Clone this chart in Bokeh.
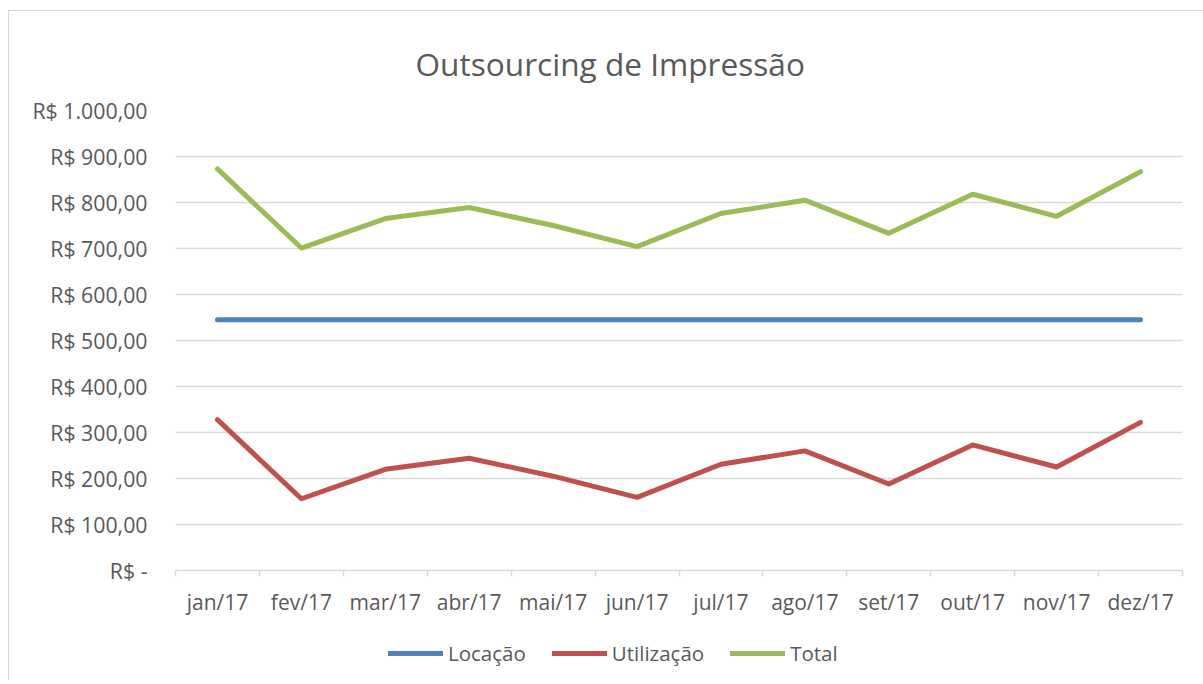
from bokeh.plotting import figure
from bokeh.models import Range1d, FixedTicker, Legend, LegendItem
from bokeh.layouts import column
from bokeh.embed import file_html
from bokeh.resources import INLINE

months = ["jan/17", "fev/17", "mar/17", "abr/17", "mai/17", "jun/17",
          "jul/17", "ago/17", "set/17", "out/17", "nov/17", "dez/17"]
locacao = [545, 545, 545, 545, 545, 545, 545, 545, 545, 545, 545, 545]
utilizacao = [328, 156, 220, 244, 205, 159, 231, 260, 188, 273, 225, 322]
total = [873, 701, 765, 789, 750, 704, 776, 805, 733, 818, 770, 867]
y_ticks = [0, 100, 200, 300, 400, 500, 600, 700, 800, 900, 1000]
y_labels = ["R$ -", "R$ 100,00", "R$ 200,00", "R$ 300,00", "R$ 400,00", "R$ 500,00",
            "R$ 600,00", "R$ 700,00", "R$ 800,00", "R$ 900,00", "R$ 1.000,00"]
series_names = ["Locação", "Utilização", "Total"]
colors = ["#4F81BD", "#C0504D", "#9BBB59"]

FONT = "Open Sans"
TXT = "#595959"
GRID = "#d9d9d9"
LW = 5

xs = list(range(len(months)))
series = [locacao, utilizacao, total]

p = figure(frame_width=1007, frame_height=460, output_backend="svg", toolbar_location=None,
           x_range=Range1d(-0.5, len(months) - 0.5), y_range=Range1d(0, 1000),
           min_border_left=166, min_border_right=22, min_border_top=99, min_border_bottom=60)
p.outline_line_color = None
p.background_fill_color = "white"
p.border_fill_color = "white"

p.title.text = "Outsourcing de Impressão"
p.title.text_font = FONT
p.title.text_font_size = "31.6px"
p.title.text_font_style = "normal"
p.title.text_color = TXT
p.title.align = "left"
p.title.offset = 240
p.title.standoff = 51

for vals, c in zip(series, colors):
    p.line(xs, vals, line_color=c, line_width=LW, line_cap="round", line_join="round")

# x axis
xa = p.xaxis[0]
xa.ticker = FixedTicker(ticks=xs, minor_ticks=[i - 0.5 for i in range(len(months) + 1)])
xa.major_label_overrides = {i: m for i, m in zip(xs, months)}
xa.major_tick_line_color = None
xa.major_tick_out = 0
xa.major_tick_in = 0
xa.minor_tick_line_color = GRID
xa.minor_tick_line_width = 1.5
xa.minor_tick_out = 6
xa.minor_tick_in = 0
xa.axis_line_color = GRID
xa.axis_line_width = 1.5
xa.major_label_text_font = FONT
xa.major_label_text_font_size = "21px"
xa.major_label_text_color = TXT
xa.major_label_standoff = 11

# y axis
ya = p.yaxis[0]
ya.ticker = FixedTicker(ticks=y_ticks)
ya.major_label_overrides = {t: l for t, l in zip(y_ticks, y_labels)}
ya.axis_line_color = None
ya.major_tick_line_color = None
ya.minor_tick_line_color = None
ya.major_tick_out = 0
ya.major_tick_in = 0
ya.major_label_text_font = FONT
ya.major_label_text_font_size = "21.3px"
ya.major_label_text_color = TXT
ya.major_label_standoff = 28

p.xgrid.grid_line_color = None
p.ygrid.grid_line_color = GRID
p.ygrid.grid_line_width = 1.5

# legend strip below the chart (its lines fall outside its own view range)
lf = figure(width=1195, height=50, output_backend="svg", toolbar_location=None,
            x_axis_type=None, y_axis_type=None,
            x_range=Range1d(-0.5, len(months) - 0.5), y_range=Range1d(-2000, -1000),
            min_border=0)
lf.outline_line_color = None
lf.grid.visible = False
lf.background_fill_color = "white"
lf.border_fill_color = "white"
proxies = [lf.line(xs, vals, line_color=c, line_width=LW, line_cap="round")
           for vals, c in zip(series, colors)]
legend = Legend(items=[LegendItem(label=n, renderers=[r]) for n, r in zip(series_names, proxies)],
                orientation="horizontal", location=(213, 13),
                glyph_width=55, glyph_height=26, label_standoff=5, spacing=26,
                padding=0, margin=0, border_line_color=None, background_fill_alpha=0,
                label_text_font=FONT, label_text_font_size="20.5px", label_text_color=TXT)
lf.add_layout(legend, "center")

layout = column(p, lf, spacing=0, margin=(10, 0, 0, 8),
                styles={"border-left": "1px solid #d9d9d9", "border-top": "1px solid #d9d9d9"})

open("out.html", "w").write(file_html(layout, INLINE))
